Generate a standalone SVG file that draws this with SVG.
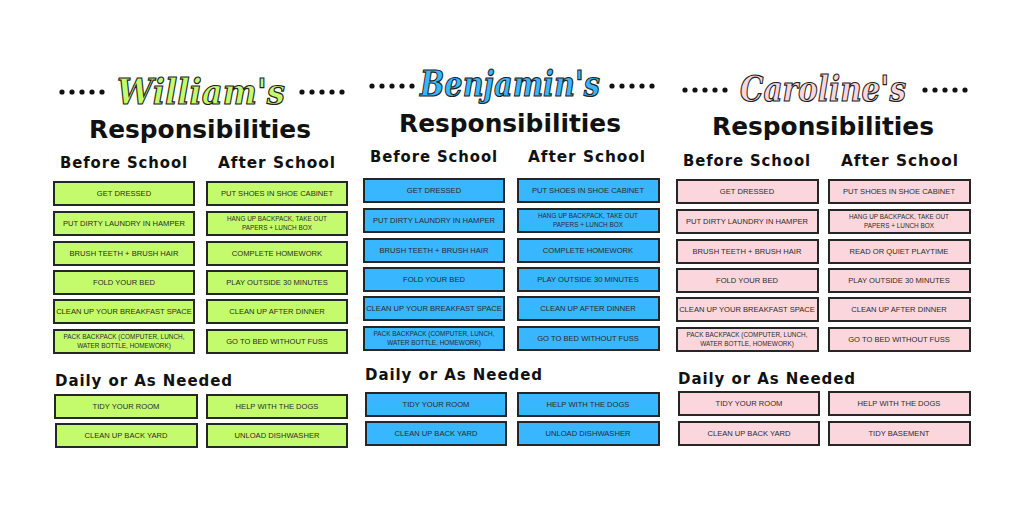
<svg xmlns="http://www.w3.org/2000/svg" width="1024" height="512" viewBox="0 0 1024 512">
<style>
.b{stroke:#262626;stroke-width:2}
.g{fill:#c3fb6d}.u{fill:#38b6ff}.p{fill:#fbd7dd}
.t{font-family:"Liberation Sans",Arial,sans-serif;font-size:7.6px;fill:#2b2b2b;text-anchor:middle}
.s{font-size:6.4px}
.h{font-family:"DejaVu Sans",sans-serif;font-weight:bold;font-size:16px;fill:#111;letter-spacing:1px}
.r{font-family:"DejaVu Sans",sans-serif;font-weight:bold;font-size:24px;fill:#111;text-anchor:middle}
.n{font-family:"DejaVu Serif",serif;font-style:italic;font-weight:bold;font-size:36px;text-anchor:middle;stroke:#222;stroke-width:1.2}
.dot{fill:#111}
</style>
<rect width="1024" height="512" fill="#fff"/>
<defs>
<g id="dots"><circle cx="0" cy="0" r="2.6"/><circle cx="10" cy="0" r="2.6"/><circle cx="20" cy="0" r="2.6"/><circle cx="30" cy="0" r="2.6"/><circle cx="40" cy="0" r="2.6"/></g>
<g id="layout">
<text class="h" x="124" y="168" text-anchor="middle" textLength="128" lengthAdjust="spacingAndGlyphs">Before School</text>
<text class="h" x="277" y="168" text-anchor="middle" textLength="118" lengthAdjust="spacingAndGlyphs">After School</text>
<text class="h" x="55" y="386" textLength="178" lengthAdjust="spacingAndGlyphs">Daily or As Needed</text>
<use href="#dots" x="62" y="92" class="dot"/><use href="#dots" x="302" y="92" class="dot"/>
</g>
</defs>

<g id="william">
<use href="#layout"/>
<text class="n g" x="201" y="104" textLength="168" lengthAdjust="spacingAndGlyphs">William's</text>
<text class="r" x="200" y="138" textLength="222" lengthAdjust="spacingAndGlyphs">Responsibilities</text>
<g class="b g">
<rect x="54" y="182" width="140" height="23"/><rect x="54" y="212" width="140" height="23"/><rect x="54" y="242" width="140" height="23"/><rect x="54" y="271" width="140" height="23"/><rect x="54" y="300" width="140" height="23"/><rect x="54" y="330" width="140" height="23"/>
<rect x="207" y="182" width="140" height="23"/><rect x="207" y="212" width="140" height="23"/><rect x="207" y="242" width="140" height="23"/><rect x="207" y="271" width="140" height="23"/><rect x="207" y="300" width="140" height="23"/><rect x="207" y="330" width="140" height="23"/>
<rect x="55" y="395" width="142" height="23"/><rect x="207" y="395" width="140" height="23"/><rect x="56" y="424" width="141" height="23"/><rect x="207" y="424" width="140" height="23"/>
</g>
<g class="t">
<text x="124" y="196">GET DRESSED</text><text x="124" y="226">PUT DIRTY LAUNDRY IN HAMPER</text><text x="124" y="256">BRUSH TEETH + BRUSH HAIR</text><text x="124" y="285">FOLD YOUR BED</text><text x="124" y="314">CLEAN UP YOUR BREAKFAST SPACE</text>
<text class="s" x="124" y="339">PACK BACKPACK (COMPUTER, LUNCH,</text><text class="s" x="124" y="348">WATER BOTTLE, HOMEWORK)</text>
<text x="277" y="196">PUT SHOES IN SHOE CABINET</text><text class="s" x="277" y="221">HANG UP BACKPACK, TAKE OUT</text><text class="s" x="277" y="230">PAPERS + LUNCH BOX</text><text x="277" y="256">COMPLETE HOMEWORK</text><text x="277" y="285">PLAY OUTSIDE 30 MINUTES</text><text x="277" y="314">CLEAN UP AFTER DINNER</text><text x="277" y="344">GO TO BED WITHOUT FUSS</text>
<text x="126" y="409">TIDY YOUR ROOM</text><text x="277" y="409">HELP WITH THE DOGS</text><text x="126" y="438">CLEAN UP BACK YARD</text><text x="277" y="438">UNLOAD DISHWASHER</text>
</g>
</g>

<g id="benjamin" transform="translate(310,-3)">
<use href="#layout" y="-3"/>
<text class="n u" x="200" y="99" textLength="180" lengthAdjust="spacingAndGlyphs">Benjamin's</text>
<text class="r" x="200" y="135" textLength="222" lengthAdjust="spacingAndGlyphs">Responsibilities</text>
<g class="b u">
<rect x="54" y="182" width="140" height="23"/><rect x="54" y="212" width="140" height="23"/><rect x="54" y="242" width="140" height="23"/><rect x="54" y="271" width="140" height="23"/><rect x="54" y="300" width="140" height="23"/><rect x="54" y="330" width="140" height="23"/>
<rect x="208" y="182" width="141" height="23"/><rect x="208" y="212" width="141" height="23"/><rect x="208" y="242" width="141" height="23"/><rect x="208" y="271" width="141" height="23"/><rect x="208" y="300" width="141" height="23"/><rect x="208" y="330" width="141" height="23"/>
<rect x="56" y="396" width="140" height="23"/><rect x="208" y="396" width="141" height="23"/><rect x="56" y="425" width="140" height="23"/><rect x="208" y="425" width="141" height="23"/>
</g>
<g class="t">
<text x="124" y="196">GET DRESSED</text><text x="124" y="226">PUT DIRTY LAUNDRY IN HAMPER</text><text x="124" y="256">BRUSH TEETH + BRUSH HAIR</text><text x="124" y="285">FOLD YOUR BED</text><text x="124" y="314">CLEAN UP YOUR BREAKFAST SPACE</text>
<text class="s" x="124" y="339">PACK BACKPACK (COMPUTER, LUNCH,</text><text class="s" x="124" y="348">WATER BOTTLE, HOMEWORK)</text>
<text x="278" y="196">PUT SHOES IN SHOE CABINET</text><text class="s" x="278" y="221">HANG UP BACKPACK, TAKE OUT</text><text class="s" x="278" y="230">PAPERS + LUNCH BOX</text><text x="278" y="256">COMPLETE HOMEWORK</text><text x="278" y="285">PLAY OUTSIDE 30 MINUTES</text><text x="278" y="314">CLEAN UP AFTER DINNER</text><text x="278" y="344">GO TO BED WITHOUT FUSS</text>
<text x="126" y="410">TIDY YOUR ROOM</text><text x="278" y="410">HELP WITH THE DOGS</text><text x="126" y="439">CLEAN UP BACK YARD</text><text x="278" y="439">UNLOAD DISHWASHER</text>
</g>
</g>

<g id="caroline" transform="translate(623,-2)">
<use href="#layout"/>
<text class="n p" x="200" y="103" textLength="166" lengthAdjust="spacingAndGlyphs">Caroline's</text>
<text class="r" x="200" y="137" textLength="222" lengthAdjust="spacingAndGlyphs">Responsibilities</text>
<g class="b p">
<rect x="54" y="182" width="141" height="23"/><rect x="54" y="212" width="141" height="23"/><rect x="54" y="242" width="141" height="23"/><rect x="54" y="271" width="141" height="23"/><rect x="54" y="300" width="141" height="23"/><rect x="54" y="330" width="141" height="23"/>
<rect x="206" y="182" width="141" height="23"/><rect x="206" y="212" width="141" height="23"/><rect x="206" y="242" width="141" height="23"/><rect x="206" y="271" width="141" height="23"/><rect x="206" y="300" width="141" height="23"/><rect x="206" y="330" width="141" height="23"/>
<rect x="56" y="394" width="140" height="23"/><rect x="206" y="394" width="141" height="23"/><rect x="56" y="424" width="140" height="23"/><rect x="206" y="424" width="141" height="23"/>
</g>
<g class="t">
<text x="124" y="196">GET DRESSED</text><text x="124" y="226">PUT DIRTY LAUNDRY IN HAMPER</text><text x="124" y="256">BRUSH TEETH + BRUSH HAIR</text><text x="124" y="285">FOLD YOUR BED</text><text x="124" y="314">CLEAN UP YOUR BREAKFAST SPACE</text>
<text class="s" x="124" y="339">PACK BACKPACK (COMPUTER, LUNCH,</text><text class="s" x="124" y="348">WATER BOTTLE, HOMEWORK)</text>
<text x="276" y="196">PUT SHOES IN SHOE CABINET</text><text class="s" x="276" y="221">HANG UP BACKPACK, TAKE OUT</text><text class="s" x="276" y="230">PAPERS + LUNCH BOX</text><text x="276" y="256">READ OR QUIET PLAYTIME</text><text x="276" y="285">PLAY OUTSIDE 30 MINUTES</text><text x="276" y="314">CLEAN UP AFTER DINNER</text><text x="276" y="344">GO TO BED WITHOUT FUSS</text>
<text x="126" y="408">TIDY YOUR ROOM</text><text x="276" y="408">HELP WITH THE DOGS</text><text x="126" y="438">CLEAN UP BACK YARD</text><text x="276" y="438">TIDY BASEMENT</text>
</g>
</g>
</svg>
